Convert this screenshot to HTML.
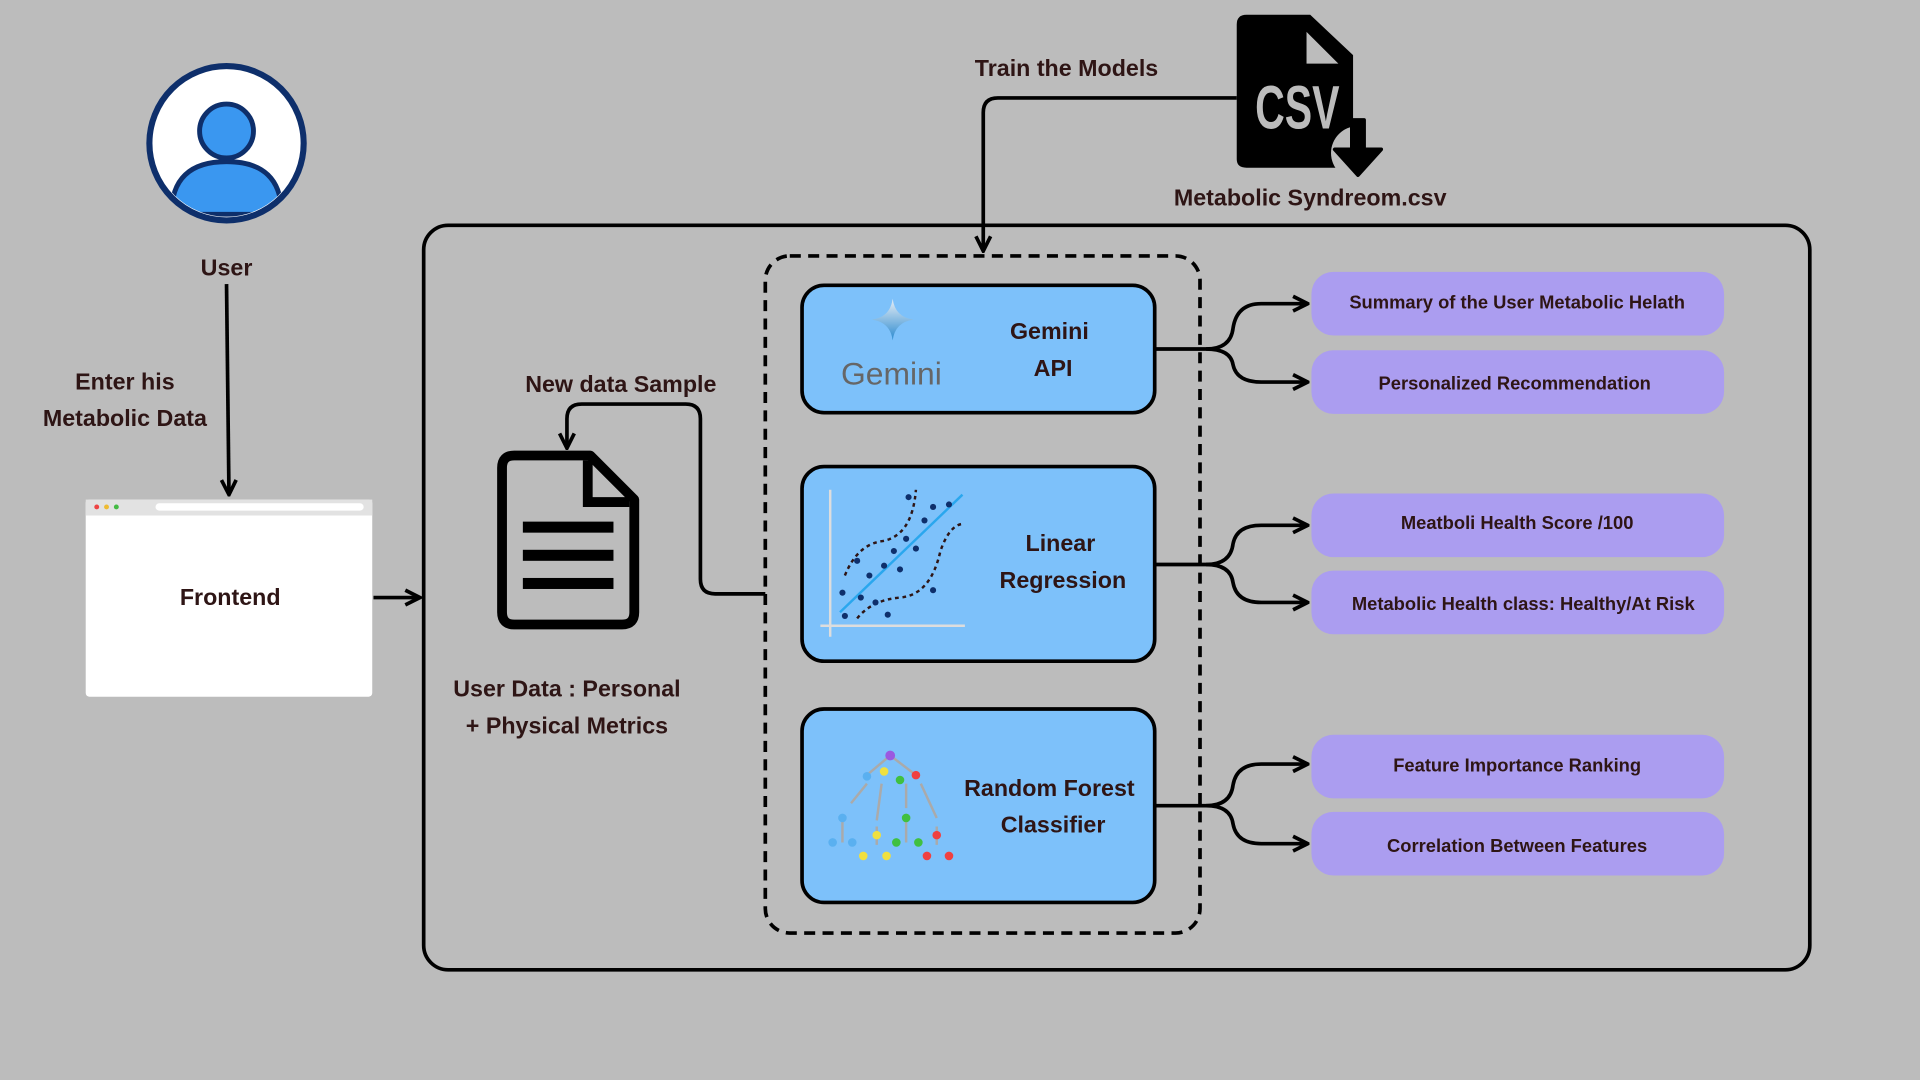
<!DOCTYPE html>
<html><head><meta charset="utf-8"><style>
html,body{margin:0;padding:0;background:#bcbcbc;width:1920px;height:1080px;overflow:hidden}
svg{display:block}
text{font-family:"Liberation Sans",sans-serif;font-weight:bold;fill:#2e1515}
</style></head><body>
<svg width="1920" height="1080" viewBox="0 0 1568 882" xmlns="http://www.w3.org/2000/svg">
<defs>
<marker id="ar" viewBox="0 0 10 10" refX="9" refY="5" markerWidth="5" markerHeight="5" orient="auto"><path d="M1,1 L9,5 L1,9" fill="none" stroke="#000" stroke-width="2"/></marker>
<linearGradient id="gm" x1="0" y1="0" x2="0" y2="1"><stop offset="0" stop-color="#e8eef5"/><stop offset="1" stop-color="#2b8ad0"/></linearGradient>
</defs>
<rect width="1568" height="882" fill="#bcbcbc"/>
<!-- user -->
<circle cx="185" cy="117" r="63" fill="#fff" stroke="#0e2f6b" stroke-width="5"/>
<clipPath id="uc"><circle cx="185" cy="117" r="60"/></clipPath>
<g clip-path="url(#uc)">
<path d="M140,175 Q140,132 185,132 Q230,132 230,175 Z" fill="#3a97f0" stroke="#0e2f6b" stroke-width="4"/>
</g>
<circle cx="185" cy="107" r="22" fill="#3a97f0" stroke="#0e2f6b" stroke-width="4"/>
<text x="185" y="225" font-size="19" text-anchor="middle">User</text>
<line x1="185" y1="232" x2="187" y2="404" stroke="#000" stroke-width="3" marker-end="url(#ar)"/>
<text x="102" y="318" font-size="19" text-anchor="middle">Enter his</text>
<text x="102" y="348" font-size="19" text-anchor="middle">Metabolic Data</text>
<!-- frontend -->
<rect x="70" y="408" width="234" height="161" fill="#fff" rx="3"/>
<rect x="70" y="408" width="234" height="13" fill="#e2e2e2"/>
<circle cx="79" cy="414" r="2" fill="#e44"/><circle cx="87" cy="414" r="2" fill="#eb3"/><circle cx="95" cy="414" r="2" fill="#4b4"/>
<rect x="127" y="411" width="170" height="6" rx="3" fill="#fff"/>
<text x="188" y="494" font-size="19" text-anchor="middle">Frontend</text>
<line x1="305" y1="488" x2="343" y2="488" stroke="#000" stroke-width="3" marker-end="url(#ar)"/>
<!-- outer -->
<rect x="346" y="184" width="1132" height="608" rx="20" fill="none" stroke="#000" stroke-width="3"/>
<rect x="625" y="209" width="355" height="553" rx="20" fill="none" stroke="#000" stroke-width="3" stroke-dasharray="9,6"/>
<!-- csv -->
<path d="M1018,12 L1070,12 L1105,45 L1105,130 Q1105,137 1098,137 L1018,137 Q1010,137 1010,130 L1010,20 Q1010,12 1018,12 Z" fill="#000"/>
<path d="M1067,26 L1067,52 L1093,52 Z" fill="#bcbcbc"/>
<circle cx="1109" cy="125" r="22" fill="#bcbcbc"/>
<path d="M1104,98 L1114,98 L1114,122 L1128,122 L1109,143 L1090,122 L1104,122 Z" fill="#000" stroke="#000" stroke-width="3" stroke-linejoin="round"/>
<text x="1025" y="105" font-size="50" style="fill:#bcbcbc" textLength="69" lengthAdjust="spacingAndGlyphs">CSV</text>
<text x="871" y="62" font-size="19" text-anchor="middle">Train the Models</text>
<text x="1070" y="168" font-size="19" text-anchor="middle">Metabolic Syndreom.csv</text>
<path d="M1010,80 L815,80 Q803,80 803,92 L803,205" fill="none" stroke="#000" stroke-width="3" marker-end="url(#ar)"/>
<!-- doc -->
<path d="M420,372 L482,372 L518,408 L518,500 Q518,510 508,510 L420,510 Q410,510 410,500 L410,382 Q410,372 420,372 Z" fill="none" stroke="#000" stroke-width="8" stroke-linejoin="round"/>
<path d="M480,376 L480,410 L514,410" fill="none" stroke="#000" stroke-width="8"/>
<rect x="427" y="426" width="74" height="9" fill="#000"/>
<rect x="427" y="449" width="74" height="9" fill="#000"/>
<rect x="427" y="472" width="74" height="9" fill="#000"/>
<text x="507" y="320" font-size="19" text-anchor="middle">New data Sample</text>
<path d="M625,485 L584,485 Q572,485 572,473 L572,342 Q572,330 560,330 L475,330 Q463,330 463,342 L463,366" fill="none" stroke="#000" stroke-width="3" marker-end="url(#ar)"/>
<text x="463" y="569" font-size="19" text-anchor="middle">User Data : Personal</text>
<text x="463" y="599" font-size="19" text-anchor="middle">+ Physical Metrics</text>
<!-- model boxes -->
<rect x="655" y="233" width="288" height="104" rx="18" fill="#7dc1fa" stroke="#000" stroke-width="3"/>
<rect x="655" y="381" width="288" height="159" rx="18" fill="#7dc1fa" stroke="#000" stroke-width="3"/>
<rect x="655" y="579" width="288" height="158" rx="18" fill="#7dc1fa" stroke="#000" stroke-width="3"/>
<path d="M729,244 Q731,259 746,261 Q731,263 729,278 Q727,263 712,261 Q727,259 729,244 Z" fill="url(#gm)"/>
<text x="728" y="314" font-size="26" text-anchor="middle" style="font-weight:normal;fill:#666">Gemini</text>
<text x="857" y="277" font-size="19" text-anchor="middle">Gemini</text>
<text x="860" y="307" font-size="19" text-anchor="middle">API</text>
<!-- LR icon -->
<line x1="678" y1="400" x2="678" y2="520" stroke="#ddd" stroke-width="2"/>
<line x1="670" y1="511" x2="788" y2="511" stroke="#ddd" stroke-width="2"/>
<line x1="686" y1="500" x2="786" y2="404" stroke="#2aa7ee" stroke-width="2"/>
<path d="M690,470 Q700,445 720,442 Q745,438 748,400" fill="none" stroke="#2e1515" stroke-width="2" stroke-dasharray="3,3"/>
<path d="M700,505 Q712,490 735,488 Q760,486 768,450 Q775,430 785,428" fill="none" stroke="#2e1515" stroke-width="2" stroke-dasharray="3,3"/>
<g fill="#0e2f6b">
<circle cx="742" cy="406" r="2.5"/><circle cx="762" cy="414" r="2.5"/><circle cx="775" cy="412" r="2.5"/><circle cx="755" cy="425" r="2.5"/><circle cx="740" cy="440" r="2.5"/><circle cx="748" cy="448" r="2.5"/><circle cx="730" cy="450" r="2.5"/><circle cx="722" cy="462" r="2.5"/><circle cx="710" cy="470" r="2.5"/><circle cx="700" cy="458" r="2.5"/><circle cx="688" cy="484" r="2.5"/><circle cx="703" cy="488" r="2.5"/><circle cx="715" cy="492" r="2.5"/><circle cx="725" cy="502" r="2.5"/><circle cx="762" cy="482" r="2.5"/><circle cx="690" cy="503" r="2.5"/><circle cx="735" cy="465" r="2.5"/>
</g>
<text x="866" y="450" font-size="19" text-anchor="middle">Linear</text>
<text x="868" y="480" font-size="19" text-anchor="middle">Regression</text>
<!-- RF icon -->
<g stroke="#aaa" stroke-width="2" fill="none">
<path d="M727,617 L708,633 M727,617 L748,633 M708,640 L695,656 M720,640 L716,670 M740,640 L740,660 M752,640 L765,668"/>
<path d="M688,668 L688,688 M716,675 L716,690 M740,668 L740,688 M765,675 L765,690"/>
</g>
<g>
<circle cx="727" cy="617" r="4" fill="#9b59e0"/>
<circle cx="708" cy="634" r="3.5" fill="#5ab0f0"/><circle cx="722" cy="630" r="3.5" fill="#f0e040"/><circle cx="735" cy="637" r="3.5" fill="#40c040"/><circle cx="748" cy="633" r="3.5" fill="#f04040"/>
<circle cx="688" cy="668" r="3.5" fill="#5ab0f0"/><circle cx="680" cy="688" r="3.5" fill="#5ab0f0"/><circle cx="696" cy="688" r="3.5" fill="#5ab0f0"/>
<circle cx="716" cy="682" r="3.5" fill="#f0e040"/><circle cx="705" cy="699" r="3.5" fill="#f0e040"/><circle cx="724" cy="699" r="3.5" fill="#f0e040"/>
<circle cx="740" cy="668" r="3.5" fill="#40c040"/><circle cx="732" cy="688" r="3.5" fill="#40c040"/><circle cx="750" cy="688" r="3.5" fill="#40c040"/>
<circle cx="765" cy="682" r="3.5" fill="#f04040"/><circle cx="757" cy="699" r="3.5" fill="#f04040"/><circle cx="775" cy="699" r="3.5" fill="#f04040"/>
</g>
<text x="857" y="650" font-size="19" text-anchor="middle">Random Forest</text>
<text x="860" y="680" font-size="19" text-anchor="middle">Classifier</text>
<!-- branches -->
<g fill="none" stroke="#000" stroke-width="3">
<path d="M943,285 L985,285 Q1005,285 1007,268 Q1010,248 1030,248 L1068,248" marker-end="url(#ar)"/>
<path d="M985,285 Q1005,285 1007,298 Q1010,312 1030,312 L1068,312" marker-end="url(#ar)"/>
<path d="M943,461 L985,461 Q1005,461 1007,444 Q1010,429 1030,429 L1068,429" marker-end="url(#ar)"/>
<path d="M985,461 Q1005,461 1007,476 Q1010,492 1030,492 L1068,492" marker-end="url(#ar)"/>
<path d="M943,658 L985,658 Q1005,658 1007,641 Q1010,624 1030,624 L1068,624" marker-end="url(#ar)"/>
<path d="M985,658 Q1005,658 1007,673 Q1010,689 1030,689 L1068,689" marker-end="url(#ar)"/>
</g>
<g fill="#ab9df0">
<rect x="1071" y="222" width="337" height="52" rx="18"/>
<rect x="1071" y="286" width="337" height="52" rx="18"/>
<rect x="1071" y="403" width="337" height="52" rx="18"/>
<rect x="1071" y="466" width="337" height="52" rx="18"/>
<rect x="1071" y="600" width="337" height="52" rx="18"/>
<rect x="1071" y="663" width="337" height="52" rx="18"/>
</g>
<g font-size="15" text-anchor="middle">
<text x="1239" y="252">Summary of the User Metabolic Helath</text>
<text x="1237" y="318">Personalized Recommendation</text>
<text x="1239" y="432">Meatboli Health Score /100</text>
<text x="1244" y="498">Metabolic Health class: Healthy/At Risk</text>
<text x="1239" y="630">Feature Importance Ranking</text>
<text x="1239" y="696">Correlation Between Features</text>
</g>
</svg>
</body></html>
